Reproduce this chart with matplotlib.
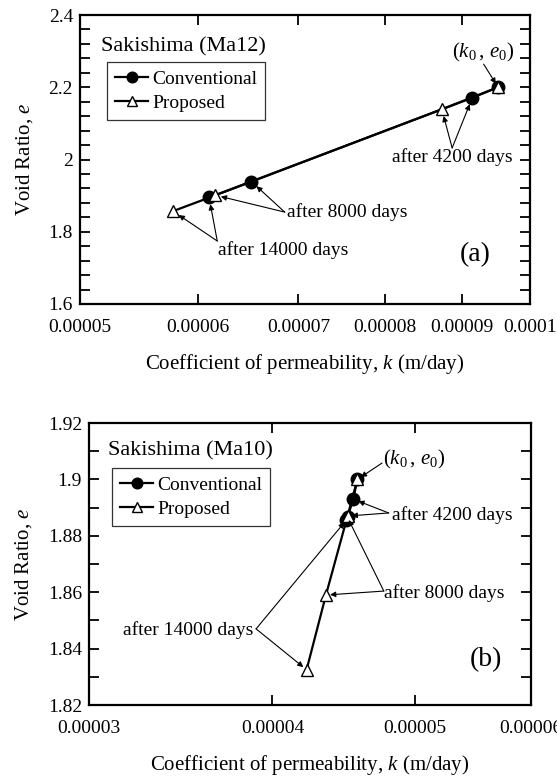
import matplotlib
matplotlib.use("Agg")
import matplotlib.pyplot as plt
from matplotlib.ticker import FixedLocator, FixedFormatter, MultipleLocator, NullLocator

plt.rcParams['font.family'] = ['Liberation Serif', 'DejaVu Serif']
plt.rcParams['mathtext.fontset'] = 'custom'
plt.rcParams['mathtext.rm'] = 'Liberation Serif'
plt.rcParams['mathtext.it'] = 'Liberation Serif:italic'

# ---- Panel (a): Sakishima (Ma12) ----
a_conv_k = [9.52e-5, 9.15e-5, 6.51e-5, 6.10e-5]
a_conv_e = [2.200, 2.171, 1.939, 1.895]
a_prop_k = [9.52e-5, 8.73e-5, 6.16e-5, 5.77e-5]
a_prop_e = [2.200, 2.139, 1.901, 1.857]
a_xticks = [5e-5, 6e-5, 7e-5, 8e-5, 9e-5, 1e-4]
a_xticklabels = ['0.00005', '0.00006', '0.00007', '0.00008', '0.00009', '0.0001']
a_yticks = [1.6, 1.8, 2.0, 2.2, 2.4]
a_yticklabels = ['1.6', '1.8', '2', '2.2', '2.4']

# ---- Panel (b): Sakishima (Ma10) ----
b_conv_k = [4.57e-5, 4.54e-5, 4.50e-5, 4.49e-5]
b_conv_e = [1.900, 1.893, 1.8865, 1.8855]
b_prop_k = [4.57e-5, 4.50e-5, 4.35e-5, 4.22e-5]
b_prop_e = [1.900, 1.887, 1.859, 1.8325]
b_xticks = [3e-5, 4e-5, 5e-5, 6e-5]
b_xticklabels = ['0.00003', '0.00004', '0.00005', '0.00006']
b_yticks = [1.82, 1.84, 1.86, 1.88, 1.90, 1.92]
b_yticklabels = ['1.82', '1.84', '1.86', '1.88', '1.9', '1.92']

TICK_FS = 14
ANN_FS = 14
fig = plt.figure(figsize=(5.57, 7.76), dpi=100)
ax1 = fig.add_axes([80/557, 1-304/776, 450/557, 289/776])
ax2 = fig.add_axes([89/557, 1-705/776, 442/557, 282/776])


def style(ax, xticks, xlabels, yticks, ylabels, xlim, ylim, yminor):
    ax.set_xscale('log')
    ax.set_xlim(*xlim)
    ax.set_ylim(*ylim)
    ax.xaxis.set_major_locator(FixedLocator(xticks))
    ax.xaxis.set_major_formatter(FixedFormatter(xlabels))
    ax.xaxis.set_minor_locator(NullLocator())
    ax.yaxis.set_major_locator(FixedLocator(yticks))
    ax.yaxis.set_major_formatter(FixedFormatter(ylabels))
    ax.yaxis.set_minor_locator(MultipleLocator(yminor))
    ax.tick_params(which='both', direction='in', top=True, right=True,
                   length=7, width=1.3, labelsize=TICK_FS)
    ax.tick_params(axis='x', pad=11)
    ax.tick_params(axis='y', pad=5)
    for s in ax.spines.values():
        s.set_linewidth(1.6)
    ax.set_xlabel(r'Coefficient of permeability, $\mathit{k}$ (m/day)', fontsize=15, labelpad=11)
    ax.set_ylabel(r'Void Ratio, $\mathit{e}$', fontsize=15, labelpad=10)


def draw(ax, ck, ce, pk, pe, anchor):
    ax.plot(ck, ce, '-', color='black', lw=1.6, marker='o', ms=9,
            mfc='black', mec='black', label='Conventional', zorder=3)
    ax.plot(pk, pe, '-', color='black', lw=1.6, marker='^', ms=9,
            mfc='white', mec='black', mew=1.0, label='Proposed', zorder=4)
    leg = ax.legend(loc='upper left', bbox_to_anchor=anchor, fontsize=ANN_FS,
                    frameon=True, fancybox=False, edgecolor='black',
                    handlelength=1.7, handletextpad=0.2, borderpad=0.42,
                    labelspacing=0.34, borderaxespad=0, markerscale=0.85)
    leg.get_frame().set_linewidth(0.9)


def arrow(ax, tail, k, e, shrink=4):
    ax.annotate('', xy=(k, e), xycoords='data', xytext=tail, textcoords='axes fraction',
                arrowprops=dict(arrowstyle='-|>', color='black', lw=0.8,
                                mutation_scale=8, shrinkA=0, shrinkB=shrink),
                zorder=5)


K0 = r'$(\mathit{k}_{\mathit{0}}\,,\,\mathit{e}_{\mathit{0}})$'

# Panel (a)
style(ax1, a_xticks, a_xticklabels, a_yticks, a_yticklabels, (5e-5, 1e-4), (1.6, 2.4), 0.04)
draw(ax1, a_conv_k, a_conv_e, a_prop_k, a_prop_e, (0.06, 0.837))
ax1.text(0.047, 0.89, 'Sakishima (Ma12)', transform=ax1.transAxes, fontsize=16, va='center')
ax1.text(0.896, 0.872, K0, transform=ax1.transAxes, fontsize=15, ha='center', va='center')
arrow(ax1, (0.897, 0.83), a_prop_k[0], a_prop_e[0], 3)
ax1.text(0.693, 0.509, 'after 4200 days', transform=ax1.transAxes, fontsize=ANN_FS, va='center')
arrow(ax1, (0.827, 0.54), a_prop_k[1], a_prop_e[1], 5)
arrow(ax1, (0.827, 0.54), a_conv_k[1], a_conv_e[1], 5)
ax1.text(0.46, 0.318, 'after 8000 days', transform=ax1.transAxes, fontsize=ANN_FS, va='center')
arrow(ax1, (0.455, 0.318), a_conv_k[2], a_conv_e[2], 5)
arrow(ax1, (0.455, 0.318), a_prop_k[2], a_prop_e[2], 4)
ax1.text(0.307, 0.187, 'after 14000 days', transform=ax1.transAxes, fontsize=ANN_FS, va='center')
arrow(ax1, (0.305, 0.218), a_prop_k[3], a_prop_e[3], 5)
arrow(ax1, (0.305, 0.218), a_conv_k[3], a_conv_e[3], 5)
ax1.text(0.878, 0.17, '(a)', transform=ax1.transAxes, fontsize=20, ha='center', va='center')

# Panel (b)
style(ax2, b_xticks, b_xticklabels, b_yticks, b_yticklabels, (3e-5, 6e-5), (1.82, 1.92), 0.01)
draw(ax2, b_conv_k, b_conv_e, b_prop_k, b_prop_e, (0.052, 0.84))
ax2.text(0.043, 0.90, 'Sakishima (Ma10)', transform=ax2.transAxes, fontsize=16, va='center')
ax2.text(0.735, 0.872, K0, transform=ax2.transAxes, fontsize=15, ha='center', va='center')
arrow(ax2, (0.663, 0.858), b_prop_k[0], b_prop_e[0], 3)
ax2.text(0.686, 0.674, 'after 4200 days', transform=ax2.transAxes, fontsize=ANN_FS, va='center')
arrow(ax2, (0.678, 0.681), b_conv_k[1], b_conv_e[1], 4)
arrow(ax2, (0.678, 0.681), b_prop_k[1], b_prop_e[1], 3)
ax2.text(0.667, 0.397, 'after 8000 days', transform=ax2.transAxes, fontsize=ANN_FS, va='center')
arrow(ax2, (0.667, 0.404), b_conv_k[2], b_conv_e[2], 2)
arrow(ax2, (0.667, 0.404), b_prop_k[2], b_prop_e[2], 3)
ax2.text(0.077, 0.266, 'after 14000 days', transform=ax2.transAxes, fontsize=ANN_FS, va='center')
arrow(ax2, (0.378, 0.27), b_conv_k[3], b_conv_e[3], 2)
arrow(ax2, (0.378, 0.27), b_prop_k[3], b_prop_e[3], 3)
ax2.text(0.898, 0.16, '(b)', transform=ax2.transAxes, fontsize=20, ha='center', va='center')

fig.savefig('out.png', dpi=100)
